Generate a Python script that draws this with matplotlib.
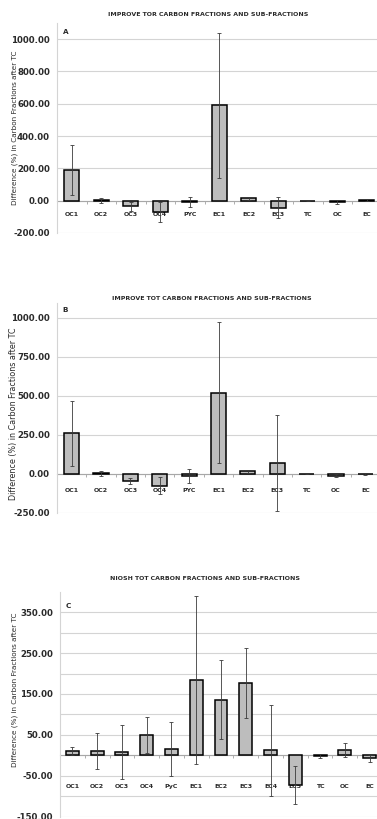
import numpy as np
import matplotlib
matplotlib.use("Agg")
import matplotlib.pyplot as plt

plt.rcParams['font.family'] = ['DejaVu Sans']

W, H = 377, 819

# ---- data ----
cats_ab = ["OC1", "OC2", "OC3", "OC4", "PYC", "EC1", "EC2", "EC3", "TC", "OC", "EC"]
vals_a = [190, 3, -35, -70, -10, 590, 15, -45, 0, -8, 3]
err_a = [155, 15, 27, 60, 32, 450, 10, 65, 3, 10, 5]

vals_b = [260, 3, -45, -76, -12, 520, 17, 72, 0, -10, 2]
err_b = [210, 15, 22, 55, 44, 452, 8, 306, 3, 9, 6]

cats_c = ["OC1", "OC2", "OC3", "OC4", "PyC", "EC1", "EC2", "EC3", "EC4", "EC5", "TC", "OC", "EC"]
vals_c = [11, 10, 8, 50, 16, 185, 136, 177, 12, -72, -2, 13, -7]
err_c = [10, 44, 65, 44, 66, 205, 97, 86, 111, 47, 5, 17, 9]

titles = ["IMPROVE TOR CARBON FRACTIONS AND SUB-FRACTIONS",
          "IMPROVE TOT CARBON FRACTIONS AND SUB-FRACTIONS",
          "NIOSH TOT CARBON FRACTIONS AND SUB-FRACTIONS"]
ylabel = "Difference (%) in Carbon Fractions after TC"

fig = plt.figure(figsize=(W / 100, H / 100), dpi=100)
fig.patch.set_facecolor("white")

def rect(l, r, t, b):
    return [l / W, 1 - b / H, (r - l) / W, (b - t) / H]

def px(x, y):
    return x / W, 1 - y / H

GRID = "#d4d4d4"
BAR = "#bdbdbd"
TXT = "#2a2a2a"
FS = 4.5
YFS = 6.2

def panel(box, cats, vals, errs, ylim, major, minor, title, title_xy, letter, letter_xy,
          ylab_xy, ylab_size, xpad):
    ax = fig.add_axes(rect(*box))
    ax.spines["bottom"].set_position(("data", 0))
    x = np.arange(len(cats))
    ax.bar(x, vals, width=0.52, color=BAR, edgecolor="black", linewidth=1.1, zorder=3)
    ax.errorbar(x, vals, yerr=errs, fmt="none", ecolor="#3a3a3a", elinewidth=0.6,
                capsize=1.6, capthick=0.6, zorder=4)
    ax.set_xlim(-0.5, len(cats) - 0.5)
    ax.set_ylim(*ylim)
    ax.set_yticks(major)
    ax.set_yticklabels([f"{v:.2f}" for v in major], fontsize=YFS, fontweight="bold", color=TXT)
    if minor is not None:
        ax.set_yticks(minor, minor=True)
        ax.grid(True, axis="y", which="minor", color=GRID, linewidth=0.8, zorder=0)
    ax.grid(True, axis="y", which="major", color=GRID, linewidth=0.8, zorder=0)
    ax.tick_params(axis="y", which="both", length=0, pad=5)
    ax.set_xticks(x)
    ax.set_xticklabels(cats, fontsize=FS, fontweight="bold", color=TXT)
    ax.set_xticks(np.arange(len(cats) + 1) - 0.5, minor=True)
    ax.tick_params(axis="x", which="major", length=0, pad=xpad)
    ax.tick_params(axis="x", which="minor", length=2.2, width=0.6, color="#a0a0a0", direction="out")
    ax.spines["bottom"].set_color("#a8a8a8")
    ax.spines["bottom"].set_linewidth(0.8)
    ax.spines["bottom"].set_zorder(2)
    ax.spines["left"].set_color(GRID)
    ax.spines["left"].set_linewidth(0.8)
    ax.spines["top"].set_visible(False)
    ax.spines["right"].set_visible(False)
    ax.set_facecolor("white")
    fig.text(*px(*title_xy), title, ha="center", va="center", fontsize=4.5,
             fontweight="bold", color=TXT)
    fig.text(*px(*letter_xy), letter, ha="center", va="center", fontsize=5.2,
             fontweight="bold", color=TXT)
    fig.text(*px(*ylab_xy), ylabel, ha="center", va="center", rotation=90,
             fontsize=ylab_size, color=TXT)
    return ax

panel((57, 381.5, 23, 233), cats_ab, vals_a, err_a, (-200, 1100),
      np.arange(-200, 1001, 200), None, titles[0], (208, 14), "A", (66, 32),
      (15.0, 128), 5.2, 8.0)

panel((57, 380, 303, 513), cats_ab, vals_b, err_b, (-250, 1095),
      np.arange(-250, 1001, 250), None, titles[1], (212, 298), "B", (65, 310),
      (14.0, 414), 5.8, 9.8)

panel((60, 382, 591.7, 816.7), cats_c, vals_c, err_c, (-150, 400),
      np.arange(-150, 351, 100), np.arange(-100, 301, 100), titles[2], (205, 579),
      "C", (68, 606), (15.0, 690), 5.2, 20.5)

fig.savefig("out.png", dpi=100, facecolor="white")
